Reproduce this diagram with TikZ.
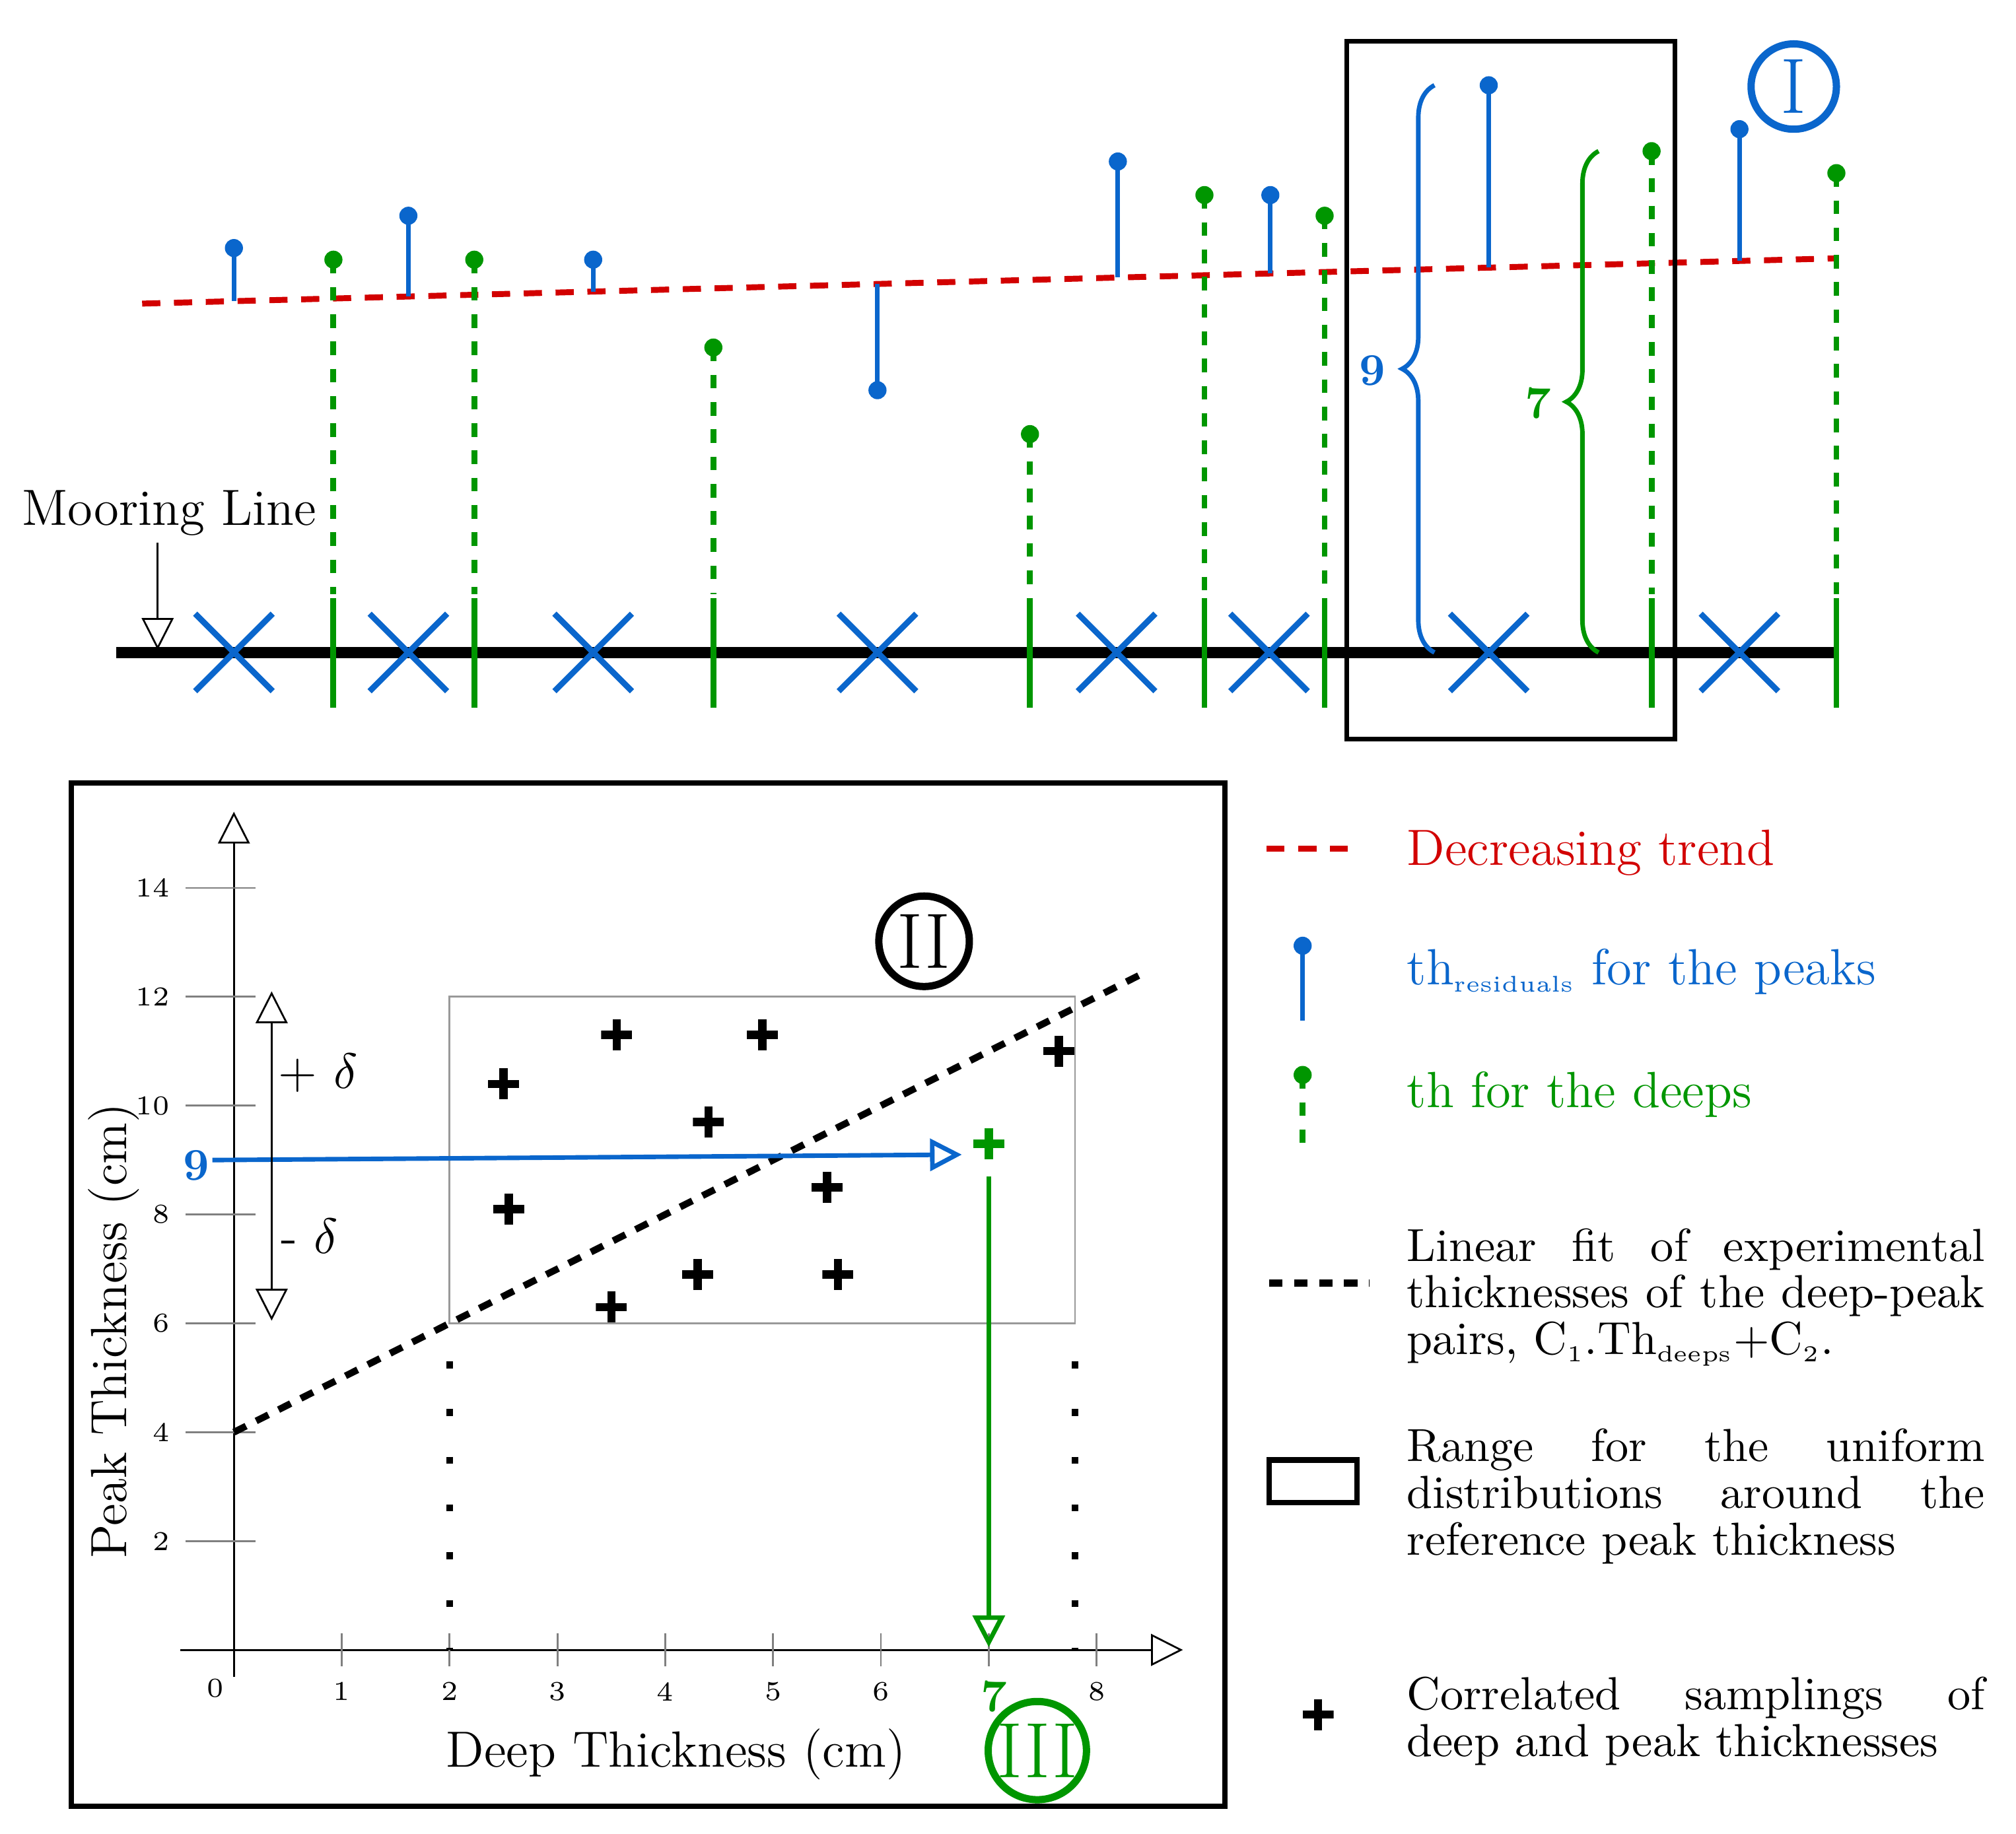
\documentclass[tikz,border=0pt]{standalone}
\usetikzlibrary{arrows.meta,decorations.pathreplacing}
\definecolor{pkblue}{RGB}{10,102,204}
\definecolor{dpgreen}{RGB}{0,150,0}
\definecolor{trred}{RGB}{210,0,0}
\tikzset{
  tri/.style={-{Triangle[open,length=7pt,width=7pt]}},
  trend/.style={trred,line width=1.3pt,dash pattern=on 4pt off 3pt},
  peak/.style={pkblue,line width=1pt},
  deep/.style={dpgreen,line width=1.3pt,dash pattern=on 3pt off 3pt},
  deepsolid/.style={dpgreen,line width=1.3pt},
  cross/.style={pkblue,line width=1.3pt},
  big/.style={font=\fontsize{11.2}{11}\selectfont},
  lbl/.style={font=\fontsize{10.2}{10.3}\selectfont},
  tick/.style={font=\fontsize{6}{7}\selectfont},
  smp/.style={minimum size=0.24cm,inner sep=0pt,
    path picture={\draw[line width=1.8pt] (path picture bounding box.north) -- (path picture bounding box.south)
      (path picture bounding box.west) -- (path picture bounding box.east);}},
}
\begin{document}
\begin{tikzpicture}[x=0.01cm,y=-0.01cm]
  \useasboundingbox (0,0) rectangle (1560,1419);
  %mooring line and trend
  \draw[line width=2.4pt] (90,505) -- (1420,505);
  \draw[trend] (110,235) -- (1420,200);
  \node[big] (moor) at (131,397) {Mooring Line};
  \coordinate (moortip) at (122,503);
  \draw[tri] (122,420) -- (moortip);
  %crosses
  \foreach \x in {181,316,459,679,864,982,1152,1346}
    \draw[cross] (\x-30,475) -- (\x+30,535) (\x-30,535) -- (\x+30,475);
  %peaks
  \foreach \x/\y in {181/192,316/167,459/201,679/302,865/125,983/151,1152/66,1346/100} {
    \pgfmathsetmacro\t{235-(\x-110)/1310*35}
    \draw[peak] (\x,\t) -- (\x,\y);
    \fill[pkblue] (\x,\y) circle (7);
  }
  %deeps
  \foreach \x/\y in {258/201,367/201,552/269,797/336,932/151,1025/167,1278/117,1421/134} {
    \draw[deep] (\x,\y) -- (\x,460);
    \draw[deepsolid] (\x,463) -- (\x,548);
    \fill[dpgreen] (\x,\y) circle (7);
  }
  \draw[line width=1pt] (1042,32) rectangle (1296,572);
  \draw[pkblue,line width=1pt,decorate,decoration={brace,amplitude=0.25cm}] (1110,505) -- (1110,66);
  \node[pkblue,big,font=\bfseries] (nine) at (1062,287) {9};
  \draw[dpgreen,line width=1pt,decorate,decoration={brace,amplitude=0.25cm}] (1237,505) -- (1237,117);
  \node[dpgreen,big,font=\bfseries] (seven) at (1190,312) {7};
  \node[pkblue,draw,circle,line width=1.6pt,minimum size=0.66cm,inner sep=0pt,font=\LARGE] (one) at (1388,67) {I};
  %plot box
  \draw[line width=1.2pt] (55,606) rectangle (948,1398);
  \begin{scope}[shift={(181,1277)},x=0.834cm,y=0.421cm]
    %axis
    \draw[tri] (-0.5,0) -- (8.8,0);
    \draw[tri] (0,-0.5) -- (0,15.4);
    %ticks
    \foreach \x in {1,...,6,8}
      \draw[gray] (\x,0.3) -- (\x,-0.3) node[tick,black,anchor=north] {\x};
    \draw[gray] (7,0.3) -- (7,-0.3);
    \foreach \y in {2,4,...,14}
      \draw[gray] (0.2,\y) -- (-0.45,\y) node[tick,black,anchor=east] {\y};
    \node[tick] (zero) at (-0.17,-0.7) {0};
    \draw[gray!80] (2,6) rectangle (7.8,12);
    \draw[line width=1.5pt,dash pattern=on 3pt off 2.5pt] (0,4) -- (8.4,12.4);
    \draw[line width=1.5pt,dash pattern=on 1.5pt off 9pt] (2,5.3) -- (2,0);
    \draw[line width=1.5pt,dash pattern=on 1.5pt off 9pt] (7.8,5.3) -- (7.8,0);
    \foreach \x/\y in {2.5/10.4,3.55/11.3,4.9/11.3,4.4/9.7,2.55/8.1,5.5/8.5,4.3/6.9,5.6/6.9,3.5/6.3,7.65/11}
      \node[smp] at (\x,\y) {};
    \node[smp,dpgreen] (gsmp) at (7,9.3) {};
    \node[pkblue,big,font=\bfseries] (nineax) at (-0.35,8.9) {9};
    \coordinate (bend) at (6.75,9.1);
    \draw[pkblue,line width=1pt,tri] (-0.2,9) -- (bend);
    \coordinate (gend) at (7,0.05);
    \draw[dpgreen,line width=1pt,tri] (7,8.7) -- (gend);
    \node[dpgreen,big,font=\bfseries] (sevenax) at (7.05,-0.85) {7};
    \draw[tri] (0.35,9) -- (0.35,12.1);
    \draw[tri] (0.35,9) -- (0.35,6.05);
    \node[big] (pd) at (0.78,10.6) {+ $\delta$};
    \node[big] (md) at (0.7,7.6) {- $\delta$};
    \node[draw,circle,line width=1.6pt,minimum size=0.7cm,inner sep=0pt,font=\LARGE] (two) at (6.4,13.02) {II};
    \node[dpgreen,draw,circle,line width=1.6pt,minimum size=0.76cm,inner sep=0pt,font=\LARGE] (three) at (7.45,-1.85) {III};
  \end{scope}
  \node[big] (xlab) at (523,1358) {Deep Thickness (cm)};
  \node[big,rotate=90] (ylab) at (88,1030) {Peak Thickness (cm)};
  %legend
  \draw[trend] (980,657) -- (1043,657);
  \node[trred,big,anchor=west,inner sep=0pt] (lgtrend) at (1088,660) {Decreasing trend};
  \draw[peak] (1008,732) -- (1008,790);
  \fill[pkblue] (1008,732) circle (7);
  \node[pkblue,big,anchor=west,inner sep=0pt] (lgpeak) at (1088,752) {th\textsubscript{\tiny residuals} for the peaks};
  \draw[deep] (1008,832) -- (1008,890);
  \fill[dpgreen] (1008,832) circle (7);
  \node[dpgreen,big,anchor=west,inner sep=0pt] (lgdeep) at (1088,847) {th for the deeps};
  \draw[line width=1.5pt,dash pattern=on 3pt off 2.5pt] (982,993) -- (1060,993);
  \node[lbl,anchor=north west,inner sep=0pt,text width=4.47cm,align=justify] (lgfit) at (1088,950)
    {Linear fit of experimental\linebreak thicknesses of the deep-peak\linebreak pairs, C\textsubscript{\tiny 1}.Th\textsubscript{\tiny deeps}+C\textsubscript{\tiny 2}.};
  \draw[line width=1.2pt] (982,1130) rectangle (1050,1163);
  \node[lbl,anchor=north west,inner sep=0pt,text width=4.47cm,align=justify] (lgrange) at (1088,1105)
    {Range for the uniform\linebreak distributions around the\linebreak reference peak thickness};
  \node[smp] (lgplus) at (1020,1327) {};
  \node[lbl,anchor=north west,inner sep=0pt,text width=4.47cm,align=justify] (lgsmp) at (1088,1297)
    {Correlated samplings of\linebreak deep and peak thicknesses};
\end{tikzpicture}
\end{document}
